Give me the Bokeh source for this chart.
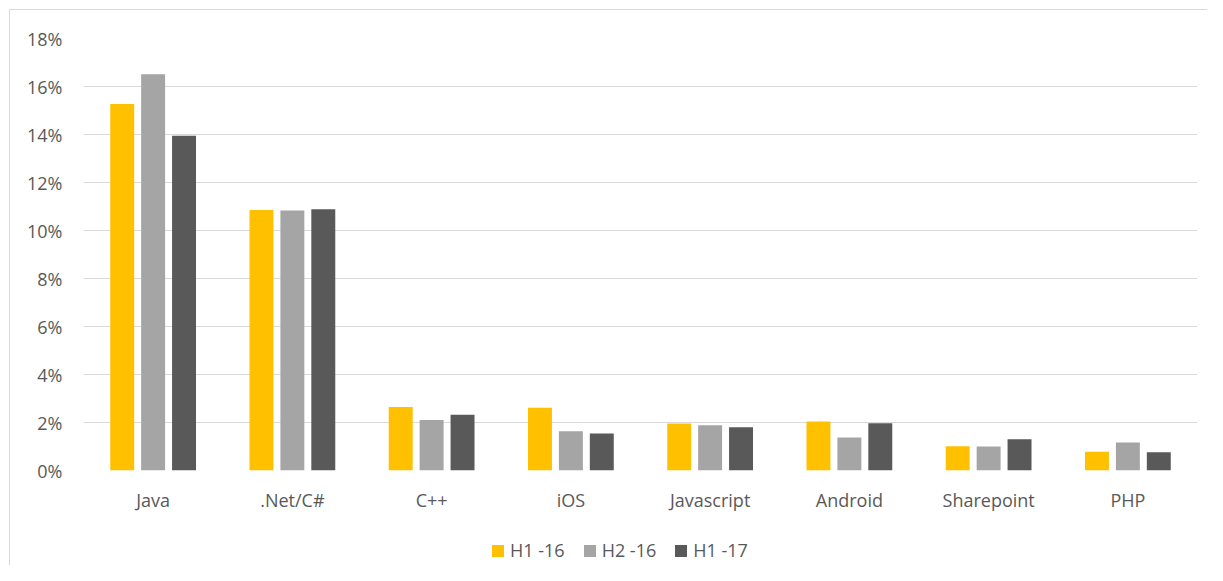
from bokeh.plotting import figure
from bokeh.layouts import column
from bokeh.models import ColumnDataSource, FactorRange, Range1d, Legend, LegendItem, FixedTicker, NumeralTickFormatter
from bokeh.transform import dodge
from bokeh.embed import file_html
from bokeh.resources import INLINE

categories = ["Java", ".Net/C#", "C++", "iOS", "Javascript", "Android", "Sharepoint", "PHP"]
series_names = ["H1 -16", "H2 -16", "H1 -17"]
h1_16 = [0.1527, 0.1085, 0.0265, 0.0261, 0.0196, 0.0204, 0.0101, 0.0078]
h2_16 = [0.1651, 0.1083, 0.0210, 0.0164, 0.0189, 0.0138, 0.0100, 0.0117]
h1_17 = [0.1395, 0.1089, 0.0232, 0.0154, 0.0180, 0.0197, 0.0130, 0.0076]
y_ticks = [0, 0.02, 0.04, 0.06, 0.08, 0.10, 0.12, 0.14, 0.16, 0.18]

colors = ["#FFC000", "#A5A5A5", "#595959"]
FONT = "Open Sans"
TXT = "#595959"

src = ColumnDataSource(dict(cat=categories, a=h1_16, b=h2_16, c=h1_17))
xr = FactorRange(*categories, range_padding=0)

p = figure(x_range=xr, y_range=Range1d(0, 0.18),
           width=1207, height=515, output_backend="svg", toolbar_location=None,
           min_border_left=83, min_border_right=10, min_border_top=38, min_border_bottom=45)
p.border_fill_alpha = 0
p.background_fill_color = "white"
p.outline_line_color = None

keys = ["a", "b", "c"]
offsets = [-0.222, 0.0, 0.222]
for key, off, col in zip(keys, offsets, colors):
    p.vbar(x=dodge("cat", off, range=xr), top=key, width=0.172, source=src,
           fill_color=col, line_color=None)

p.yaxis.ticker = FixedTicker(ticks=y_ticks)
p.yaxis.formatter = NumeralTickFormatter(format="0%")
for ax in (p.xaxis[0], p.yaxis[0]):
    ax.axis_line_color = None
    ax.major_tick_line_color = None
    ax.minor_tick_line_color = None
    ax.major_label_text_font = FONT
    ax.major_label_text_font_size = "18px"
    ax.major_label_text_color = TXT
p.xaxis.major_label_standoff = 11
p.yaxis.major_label_standoff = 15
p.xgrid.grid_line_color = None
p.ygrid.grid_line_color = "#d9d9d9"
p.ygrid.grid_line_width = 1.2
p.ygrid.ticker = FixedTicker(ticks=y_ticks)

# legend strip below the chart: same series, drawn into a y-window above all values (so bars are clipped away)
lf = figure(width=1207, height=50, x_range=xr, y_range=Range1d(0.5, 1),
            x_axis_location=None, y_axis_location=None, toolbar_location=None,
            output_backend="svg", min_border=0)
lf.xgrid.grid_line_color = None
lf.ygrid.grid_line_color = None
lf.outline_line_color = None
lf.border_fill_alpha = 0
lf.background_fill_alpha = 0
swatches = [lf.vbar(x=dodge("cat", off, range=xr), top=key, width=0.172, source=src,
                    fill_color=col, line_color=None)
            for key, off, col in zip(keys, offsets, colors)]

legend = Legend(items=[LegendItem(label=n, renderers=[r]) for n, r in zip(series_names, swatches)],
                orientation="horizontal", location=(407, 3),
                glyph_width=15, glyph_height=15, label_standoff=5, spacing=17,
                label_text_font=FONT, label_text_font_size="18px", label_text_color=TXT,
                border_line_color=None, background_fill_alpha=0, padding=0, margin=0)
lf.add_layout(legend, "center")

layout = column(p, lf, spacing=0)
layout.styles = {
    "background-image": "linear-gradient(#d9d9d9,#d9d9d9), linear-gradient(#d9d9d9,#d9d9d9)",
    "background-size": "100% 1px, 1px 100%",
    "background-position": "9px 9px, 9px 9px",
    "background-repeat": "no-repeat",
    "background-color": "white",
}

open("out.html", "w").write(file_html(layout, INLINE))
